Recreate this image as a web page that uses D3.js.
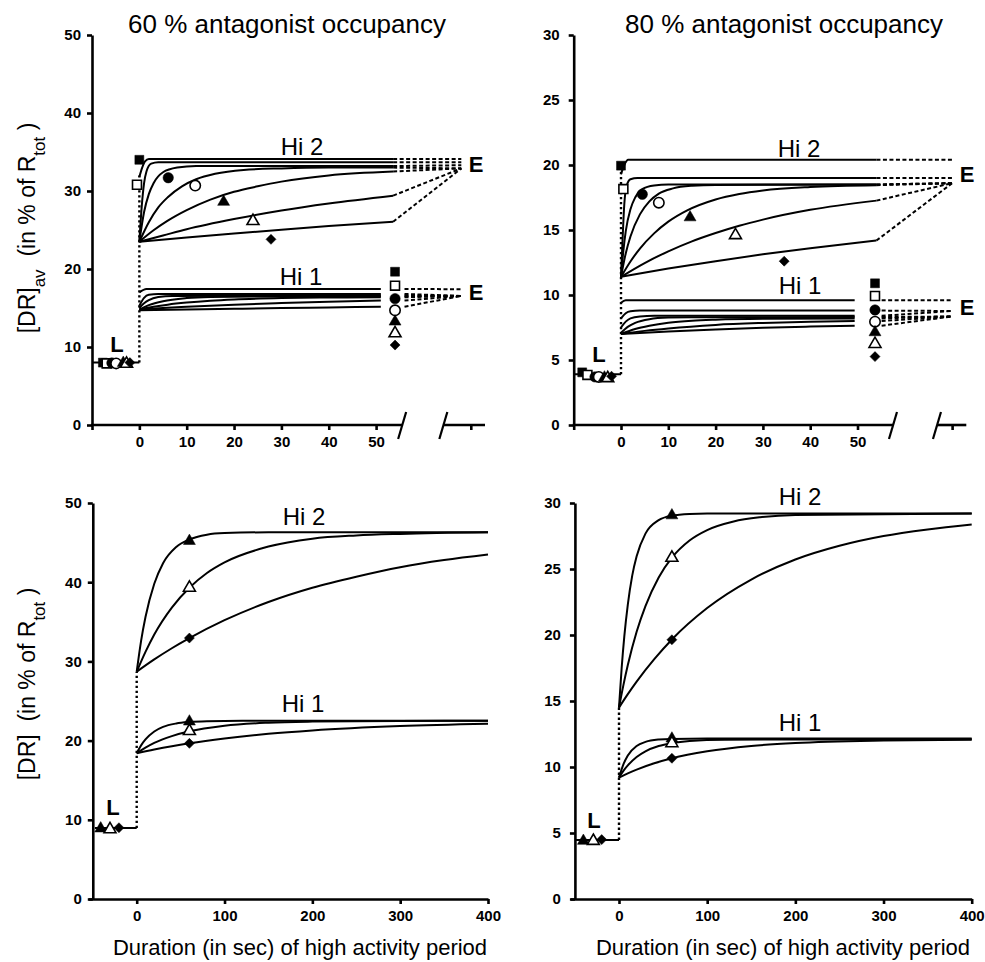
<!DOCTYPE html>
<html>
<head>
<meta charset="utf-8">
<title>Antagonist occupancy - DR kinetics</title>
<script src="https://d3js.org/d3.v7.min.js"></script>
<style>
    body { margin: 0; background: #fff; }
    svg text { font-family: Arial, "Liberation Sans", sans-serif; fill: #000; }
    .axis path, .axis line { stroke: #000; stroke-width: 2.6; }
    .axis .tick text { font-size: 15px; font-weight: bold; }
    .curve { fill: none; stroke: #000; stroke-width: 2; }
    .dash { fill: none; stroke: #000; stroke-width: 2; stroke-dasharray: 4 2.5; }
    .dot { fill: none; stroke: #000; stroke-width: 2.4; stroke-dasharray: 2.4 2.6; }
    .title { font-size: 26px; }
    .hi { font-size: 24px; }
    .tag { font-size: 22px; font-weight: bold; }
    .ylab { font-size: 23px; }
    .xlab { font-size: 22px; }
</style>
</head>
<body>
<script>
// marker order for the series lists
var topKinds = ["sqF", "sqO", "ciF", "ciO", "trF", "trO", "di"];
var bottomKinds = ["trF", "trO", "di"];

// ticks
var topXTicks = [-10, 0, 10, 20, 30, 40, 50, 70];
var yTicks50 = [0, 10, 20, 30, 40, 50];
var yTicks30 = [0, 5, 10, 15, 20, 25, 30];
var bottomXTicks = [0, 100, 200, 300, 400];

// ---------- 60 % occupancy, [DR]av ----------
var a60_L_line = [[-10, 8.0], [0, 8.0]];
var a60_L_marks = [[-7.7, 8.0], [-6.9, 7.9], [-5.8, 7.95], [-4.9, 7.9], [-3.4, 7.95], [-2.7, 7.85], [-2.0, 8.0]];
var a60_jump = [[0, 8.0], [0, 32.0]];
var a60_hi2 = [
    [[0, 31.8], [0.6, 33.0], [1.2, 33.8], [2, 34.1], [10, 34.1], [53.6, 34.1]],
    [[0, 23.5], [0.5, 28.0], [1, 31.0], [1.5, 32.5], [2.5, 33.5], [4, 33.7], [53.6, 33.7]],
    [[0, 23.5], [1, 27.3], [2, 29.6], [3, 31.0], [5, 32.4], [8, 33.0], [12, 33.2], [53.6, 33.2]],
    [[0, 23.5], [2, 26.0], [4, 27.9], [6, 29.2], [9, 30.6], [12, 31.5], [16, 32.2], [22, 32.7], [30, 32.9], [40, 33.0], [53.6, 33.0]],
    [[0, 23.5], [3, 24.96], [6, 26.2], [10, 27.55], [15, 28.9], [20, 29.9], [25, 30.6], [30, 31.2], [40, 32.0], [53.6, 32.5]],
    [[0, 23.5], [5, 24.3], [10, 25.1], [20, 26.4], [30, 27.5], [40, 28.4], [53.6, 29.4]],
    [[0, 23.5], [10, 24.05], [20, 24.55], [30, 25.04], [40, 25.5], [53.6, 26.06]]
];
var a60_hi2_marks = [[0, 34.0], [-0.5, 30.8], [6.1, 31.7], [11.8, 30.7], [17.8, 28.6], [24, 26.15], [27.8, 23.8]];
var a60_hi2_dash = [
    [[53.6, 34.1], [68, 34.1]], [[53.6, 33.7], [68, 33.7]], [[53.6, 33.2], [68, 33.3]],
    [[53.6, 33.0], [68, 32.9]], [[53.6, 32.5], [68, 32.9]], [[53.6, 29.4], [68, 32.9]],
    [[53.6, 26.06], [68, 32.9]]
];
var a60_hi1 = [
    [[0, 17.0], [1.5, 17.45], [51, 17.45]],
    [[0, 15.3], [1, 16.3], [2, 16.7], [4, 16.8], [51, 16.8]],
    [[0, 15.0], [1, 15.6], [2, 16.0], [4, 16.4], [7, 16.55], [51, 16.6]],
    [[0, 14.8], [2, 15.36], [5, 15.87], [10, 16.27], [15, 16.42], [25, 16.49], [51, 16.5]],
    [[0, 14.8], [3, 15.15], [6, 15.43], [10, 15.7], [15, 15.94], [20, 16.1], [30, 16.27], [40, 16.34], [51, 16.38]],
    [[0, 14.8], [5, 14.99], [10, 15.15], [20, 15.43], [30, 15.64], [40, 15.81], [51, 15.95]],
    [[0, 14.7], [10, 14.8], [20, 14.9], [30, 14.99], [40, 15.07], [51, 15.16]]
];
var a60_hi1_marks = [[54, 19.65], [54, 17.86], [54, 16.2], [54, 14.7], [54, 13.25], [54, 11.75], [54, 10.25]];
var a60_hi1_dash = [
    [[56, 17.45], [68, 17.4]], [[56, 16.8], [68, 16.55]], [[56, 16.6], [68, 16.55]],
    [[56, 16.5], [68, 16.55]], [[56, 16.38], [68, 16.55]], [[56, 15.95], [68, 16.55]],
    [[56, 15.16], [68, 16.55]]
];

// ---------- 80 % occupancy, [DR]av ----------
var b80_L_line = [[-10, 3.9], [0, 3.9]];
var b80_L_marks = [[-8.2, 4.05], [-7.1, 3.85], [-5.5, 3.7], [-4.7, 3.7], [-3.5, 3.65], [-2.8, 3.6], [-2.0, 3.75]];
var b80_jump = [[0, 3.9], [0, 19.5]];
var b80_hi2 = [
    [[0, 19.3], [0.7, 20.0], [1.5, 20.4], [54, 20.4]],
    [[0, 11.4], [0.3, 14.0], [0.7, 17.0], [1.2, 18.4], [2, 18.9], [3.5, 19.0], [54, 19.0]],
    [[0, 11.4], [0.5, 13.4], [1, 14.9], [2, 16.6], [3, 17.5], [4.5, 18.15], [7, 18.43], [10, 18.5], [54, 18.5]],
    [[0, 11.4], [1, 13.2], [2, 14.5], [4, 16.2], [6, 17.2], [8, 17.8], [11, 18.2], [15, 18.4], [20, 18.47], [54, 18.5]],
    [[0, 11.4], [2, 12.58], [4, 13.57], [7, 14.74], [10, 15.64], [14, 16.51], [20, 17.35], [25, 17.77], [30, 18.04], [40, 18.31], [54, 18.45]],
    [[0, 11.4], [5, 12.46], [10, 13.36], [15, 14.13], [20, 14.77], [25, 15.33], [30, 15.8], [40, 16.55], [54, 17.26]],
    [[0, 11.4], [10, 12.03], [20, 12.6], [30, 13.13], [40, 13.6], [54, 14.19]]
];
var b80_hi2_marks = [[0, 19.95], [0.5, 18.15], [4.5, 17.75], [8, 17.1], [14.6, 15.97], [24.2, 14.6], [34.5, 12.6]];
var b80_hi2_dash = [
    [[54, 20.4], [70, 20.4]], [[54, 19.0], [70, 19.0]], [[54, 18.5], [70, 18.6]],
    [[54, 18.5], [70, 18.6]], [[54, 18.45], [70, 18.6]], [[54, 17.26], [70, 18.6]],
    [[54, 14.19], [70, 18.6]]
];
var b80_hi1 = [
    [[0, 9.4], [1, 9.6], [49.4, 9.6]],
    [[0, 8.2], [1, 8.6], [2, 8.75], [4, 8.8], [49.4, 8.8]],
    [[0, 7.5], [1, 7.95], [2, 8.2], [4, 8.35], [7, 8.4], [49.4, 8.4]],
    [[0, 7.1], [1.5, 7.57], [3, 7.86], [6, 8.14], [10, 8.26], [15, 8.29], [49.4, 8.3]],
    [[0, 7.0], [3, 7.38], [6, 7.63], [10, 7.86], [15, 8.02], [20, 8.1], [30, 8.17], [49.4, 8.2]],
    [[0, 7.0], [5, 7.24], [10, 7.43], [20, 7.7], [30, 7.85], [40, 7.95], [49.4, 8.0]],
    [[0, 7.0], [10, 7.2], [20, 7.35], [30, 7.48], [40, 7.57], [49.4, 7.64]]
];
var b80_hi1_marks = [[53.7, 10.9], [53.7, 9.92], [53.7, 8.85], [53.7, 7.95], [53.7, 7.13], [53.7, 6.23], [53.7, 5.26]];
var b80_hi1_dash = [
    [[55.1, 9.6], [70, 9.6]], [[55.1, 8.8], [70, 8.77]], [[55.1, 8.4], [70, 8.77]],
    [[55.1, 8.3], [70, 8.35]], [[55.1, 8.2], [70, 8.35]], [[55.1, 8.0], [70, 8.35]],
    [[55.1, 7.64], [70, 8.35]]
];

// ---------- 60 % occupancy, [DR] ----------
var c60_L_line = [[-47.6, 8.95], [0, 8.95]];
var c60_L_marks = [[-41, 8.9], [-30.4, 8.8], [-20.2, 9.0]];
var c60_jump = [[0, 8.95], [0, 28.7]];
var c60_hi2 = [
    [[0, 28.7], [5, 32.6], [10, 35.6], [20, 39.8], [30, 42.4], [45, 44.45], [60, 45.4], [80, 46.0], [100, 46.2], [150, 46.3], [400, 46.3]],
    [[0, 28.7], [10, 31.2], [20, 33.4], [40, 36.8], [60, 39.3], [80, 41.16], [100, 42.5], [150, 44.5], [200, 45.5], [250, 45.9], [300, 46.1], [400, 46.3]],
    [[0, 28.7], [20, 30.25], [40, 31.66], [60, 32.94], [100, 35.2], [150, 37.5], [200, 39.3], [250, 40.7], [300, 41.9], [350, 42.8], [400, 43.5]]
];
var c60_hi2_marks = [[60, 45.2], [60, 39.3], [60, 32.95]];
var c60_hi1 = [
    [[0, 18.4], [5, 19.4], [10, 20.15], [20, 21.15], [30, 21.73], [45, 22.16], [60, 22.35], [80, 22.45], [120, 22.5], [400, 22.5]],
    [[0, 18.4], [10, 19.1], [20, 19.7], [40, 20.57], [60, 21.18], [100, 21.88], [150, 22.26], [200, 22.4], [300, 22.49], [400, 22.5]],
    [[0, 18.4], [20, 18.87], [40, 19.29], [60, 19.66], [100, 20.27], [150, 20.86], [200, 21.29], [300, 21.84], [400, 22.14]]
];
var c60_hi1_marks = [[60, 22.4], [60, 21.2], [60, 19.65]];

// ---------- 80 % occupancy, [DR] ----------
var d80_L_line = [[-48.7, 4.47], [0, 4.47]];
var d80_L_marks = [[-40.4, 4.4], [-29.1, 4.4], [-19.6, 4.5]];
var d80_jump = [[0, 4.47], [0, 14.5]];
var d80_hi2 = [
    [[0, 14.5], [3, 17.48], [6, 19.87], [10, 22.3], [15, 24.5], [20, 25.96], [30, 27.68], [45, 28.7], [60, 29.04], [80, 29.17], [100, 29.2], [400, 29.2]],
    [[0, 14.5], [5, 16.2], [10, 17.72], [20, 20.24], [30, 22.19], [45, 24.36], [60, 25.86], [80, 27.16], [100, 27.95], [130, 28.6], [160, 28.92], [200, 29.1], [400, 29.2]],
    [[0, 14.5], [10, 15.52], [20, 16.47], [40, 18.17], [60, 19.66], [100, 22.04], [150, 24.2], [200, 25.72], [250, 26.76], [300, 27.5], [350, 28.0], [400, 28.38]]
];
var d80_hi2_marks = [[60, 29.06], [60, 25.85], [60, 19.64]];
var d80_hi1 = [
    [[0, 9.2], [5, 10.2], [10, 10.87], [20, 11.59], [30, 11.9], [45, 12.08], [60, 12.13], [100, 12.15], [400, 12.15]],
    [[0, 9.2], [5, 9.71], [10, 10.12], [20, 10.76], [30, 11.19], [45, 11.59], [60, 11.81], [80, 11.97], [120, 12.07], [400, 12.1]],
    [[0, 9.2], [10, 9.52], [20, 9.8], [40, 10.28], [60, 10.66], [100, 11.19], [150, 11.59], [200, 11.82], [300, 12.01], [400, 12.07]]
];
var d80_hi1_marks = [[60, 12.15], [60, 11.8], [60, 10.66]];

// ------------------------------------------------------------
var svg = d3.select("body").append("svg")
    .attr("width", 985)
    .attr("height", 962);

var shapes = {
    sqF: { type: d3.symbolSquare, size: 80, fill: "#000", rot: 0 },
    sqO: { type: d3.symbolSquare, size: 80, fill: "#fff", rot: 0 },
    ciF: { type: d3.symbolCircle, size: 85, fill: "#000", rot: 0 },
    ciO: { type: d3.symbolCircle, size: 85, fill: "#fff", rot: 0 },
    trF: { type: d3.symbolTriangle, size: 62, fill: "#000", rot: 0 },
    trO: { type: d3.symbolTriangle, size: 62, fill: "#fff", rot: 0 },
    di:  { type: d3.symbolSquare, size: 50, fill: "#000", rot: 45 }
};

function drawMarks(g, x, y, pts, kinds) {
    g.selectAll(null)
        .data(pts)
        .enter()
        .append("path")
        .attr("d", function(d, i) { return d3.symbol().type(shapes[kinds[i]].type).size(shapes[kinds[i]].size)(); })
        .attr("transform", function(d, i) {
            return "translate(" + x(d[0]) + "," + y(d[1]) + ") rotate(" + shapes[kinds[i]].rot + ")";
        })
        .attr("fill", function(d, i) { return shapes[kinds[i]].fill; })
        .attr("stroke", "#000")
        .attr("stroke-width", function(d, i) { return shapes[kinds[i]].fill == "#000" ? 0.5 : 1.6; });
}

function drawLines(g, x, y, series, cls, smooth) {
    var gen = d3.line()
        .x(function(d) { return x(d[0]); })
        .y(function(d) { return y(d[1]); });
    if (smooth) gen.curve(d3.curveMonotoneX);
    g.selectAll(null)
        .data(series)
        .enter()
        .append("path")
        .attr("class", cls)
        .attr("d", gen);
}

function label(x, y, txt, cls, anchor) {
    return svg.append("text")
        .attr("x", x).attr("y", y)
        .attr("class", cls)
        .attr("text-anchor", anchor || "middle")
        .text(txt);
}

// top panels: broken x axis going out to the "E" column
function topPanel(p) {
    var x = d3.scaleLinear().domain([-10, 73]).range(p.xRange);
    var y = d3.scaleLinear().domain([0, p.yMax]).range([425, 35]);
    var g = svg.append("g");

    g.append("g")
        .attr("class", "axis")
        .attr("transform", "translate(" + x(-10) + ",0)")
        .call(d3.axisLeft(y).tickValues(p.yTicks).tickSize(5).tickPadding(p.pad).tickSizeOuter(0));

    var xa = g.append("g")
        .attr("class", "axis")
        .attr("transform", "translate(0," + y(0) + ")")
        .call(d3.axisBottom(x).tickValues(topXTicks).tickSize(5).tickPadding(6)
            .tickFormat(function(d) { return (d < 0 || d > 55) ? "" : d; }));
    xa.select(".domain").remove();
    xa.append("line").attr("x1", x(-10) - 1).attr("x2", x(p.breaks[0])).attr("y1", 0).attr("y2", 0);
    xa.append("line").attr("x1", x(p.breaks[1])).attr("x2", x(73)).attr("y1", 0).attr("y2", 0);
    p.breaks.forEach(function(b) {
        xa.append("line")
            .attr("x1", x(b) - 4).attr("y1", 14)
            .attr("x2", x(b) + 4).attr("y2", -13)
            .style("stroke-width", 2.2);
    });

    drawLines(g, x, y, [p.jump], "dot", false);
    drawLines(g, x, y, [p.L_line], "curve", false);
    drawLines(g, x, y, p.hi2, "curve", true);
    drawLines(g, x, y, p.hi1, "curve", true);
    drawLines(g, x, y, p.hi2_dash, "dash", false);
    drawLines(g, x, y, p.hi1_dash, "dash", false);
    drawMarks(g, x, y, p.L_marks, topKinds);
    drawMarks(g, x, y, p.hi2_marks, topKinds);
    drawMarks(g, x, y, p.hi1_marks, topKinds);
}

function bottomPanel(p) {
    var x = d3.scaleLinear().domain([-55, 400]).range(p.xRange);
    var y = d3.scaleLinear().domain([0, p.yMax]).range([899, 503]);
    var g = svg.append("g");

    g.append("g")
        .attr("class", "axis")
        .attr("transform", "translate(" + x(-50) + ",0)")
        .call(d3.axisLeft(y).tickValues(p.yTicks).tickSize(5).tickPadding(p.pad).tickSizeOuter(0));

    g.append("g")
        .attr("class", "axis")
        .attr("transform", "translate(0," + y(0) + ")")
        .call(d3.axisBottom(x).tickValues(bottomXTicks).tickSize(5).tickPadding(6).tickSizeOuter(0));

    drawLines(g, x, y, [p.jump], "dot", false);
    drawLines(g, x, y, [p.L_line], "curve", false);
    drawLines(g, x, y, p.hi2, "curve", true);
    drawLines(g, x, y, p.hi1, "curve", true);
    drawMarks(g, x, y, p.L_marks, bottomKinds);
    drawMarks(g, x, y, p.hi2_marks, bottomKinds);
    drawMarks(g, x, y, p.hi1_marks, bottomKinds);
}

topPanel({
    xRange: [92, 485], yMax: 50, yTicks: yTicks50, pad: 6, breaks: [55.5, 64.2],
    L_line: a60_L_line, L_marks: a60_L_marks, jump: a60_jump,
    hi2: a60_hi2, hi2_marks: a60_hi2_marks, hi2_dash: a60_hi2_dash,
    hi1: a60_hi1, hi1_marks: a60_hi1_marks, hi1_dash: a60_hi1_dash
});
topPanel({
    xRange: [573.7, 966.3], yMax: 30, yTicks: yTicks30, pad: 9, breaks: [57.5, 66.8],
    L_line: b80_L_line, L_marks: b80_L_marks, jump: b80_jump,
    hi2: b80_hi2, hi2_marks: b80_hi2_marks, hi2_dash: b80_hi2_dash,
    hi1: b80_hi1, hi1_marks: b80_hi1_marks, hi1_dash: b80_hi1_dash
});
bottomPanel({
    xRange: [88.4, 488], yMax: 50, yTicks: yTicks50, pad: 6,
    L_line: c60_L_line, L_marks: c60_L_marks, jump: c60_jump,
    hi2: c60_hi2, hi2_marks: c60_hi2_marks, hi1: c60_hi1, hi1_marks: c60_hi1_marks
});
bottomPanel({
    xRange: [570.5, 971.7], yMax: 30, yTicks: yTicks30, pad: 9,
    L_line: d80_L_line, L_marks: d80_L_marks, jump: d80_jump,
    hi2: d80_hi2, hi2_marks: d80_hi2_marks, hi1: d80_hi1, hi1_marks: d80_hi1_marks
});

// titles and in-plot labels
label(287, 33, "60 % antagonist occupancy", "title");
label(784, 33, "80 % antagonist occupancy", "title");

label(302, 155, "Hi 2", "hi");
label(301, 285, "Hi 1", "hi");
label(799, 157, "Hi 2", "hi");
label(800, 294, "Hi 1", "hi");
label(304, 525, "Hi 2", "hi");
label(303, 712, "Hi 1", "hi");
label(800, 505, "Hi 2", "hi");
label(800, 731, "Hi 1", "hi");

label(476, 172, "E", "tag");
label(476, 300, "E", "tag");
label(967, 182, "E", "tag");
label(967, 315, "E", "tag");
label(117, 352, "L", "tag");
label(599, 362, "L", "tag");
label(113, 815, "L", "tag");
label(594, 828, "L", "tag");

// y axis titles with subscripts
function yTitle(cy, sub) {
    var t = svg.append("text")
        .attr("class", "ylab")
        .attr("text-anchor", "middle")
        .attr("transform", "translate(35," + cy + ") rotate(-90)");
    t.append("tspan").text("[DR]");
    if (sub) t.append("tspan").attr("baseline-shift", "sub").attr("font-size", "17px").text(sub);
    t.append("tspan").text("\u00a0 (in % of R");
    t.append("tspan").attr("baseline-shift", "sub").attr("font-size", "17px").text("tot");
    t.append("tspan").text(" )");
}
yTitle(228, "av");
yTitle(684, null);

label(300, 955, "Duration (in sec) of high activity period", "xlab");
label(783, 955, "Duration (in sec) of high activity period", "xlab");
</script>
</body>
</html>
